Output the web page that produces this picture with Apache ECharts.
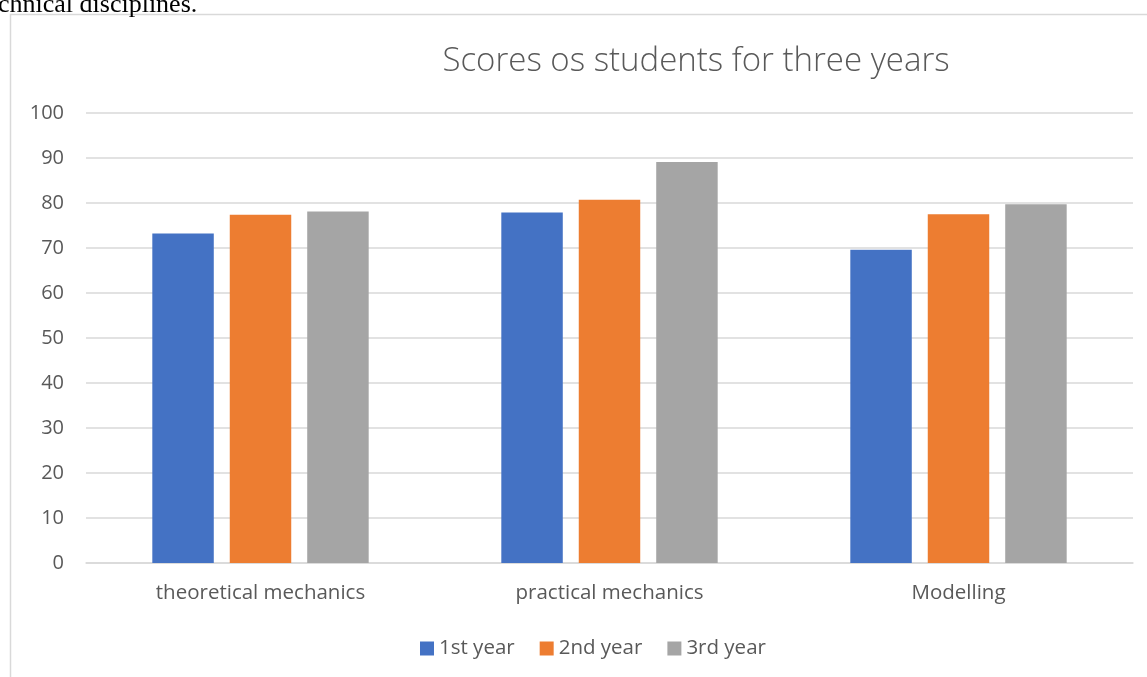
<!DOCTYPE html>
<html><head><meta charset="utf-8">
<script src="https://cdn.jsdelivr.net/npm/echarts@6/dist/echarts.min.js"></script>
<style>html,body{margin:0;padding:0;background:#fff;}#c{width:1147px;height:677px;}</style>
</head><body><div id="c"></div>
<script>
const categories = ['theoretical mechanics', 'practical mechanics', 'Modelling'];
const year1 = [73.2, 77.9, 69.6];
const year2 = [77.4, 80.7, 77.5];
const year3 = [78.1, 89.1, 79.7];
const seriesNames = ['1st year', '2nd year', '3rd year'];
const colors = ['#4472C4', '#ED7D31', '#A5A5A5'];

const chart = echarts.init(document.getElementById('c'));
const font = 'Open Sans';
chart.setOption({
  animation: false,
  graphic: [
    {type: 'rect', shape: {x: 10.5, y: 14.5, width: 1300, height: 800},
     style: {fill: 'none', stroke: '#d9d9d9', lineWidth: 1.5}, silent: true},
    {type: 'text', left: -2, top: -8,
     style: {text: 'chnical disciplines.', font: '26px "Liberation Serif"', fill: '#000'}}
  ],
  title: {
    text: 'Scores os students for three years',
    left: 691, top: 40, textAlign: 'center',
    textStyle: {fontFamily: font, fontWeight: 300, fontSize: 33, color: '#595959'}
  },
  legend: {
    data: seriesNames, bottom: 13, left: 415,
    itemWidth: 14, itemHeight: 14, itemGap: 25, icon: 'rect',
    textStyle: {fontFamily: font, fontSize: 20.5, color: '#595959'}
  },
  grid: {left: 86, right: 14, top: 113, bottom: 114, containLabel: false},
  xAxis: {
    type: 'category', data: categories,
    axisLine: {lineStyle: {color: '#d9d9d9', width: 1.5}},
    axisTick: {show: false},
    axisLabel: {fontFamily: font, fontSize: 20.5, color: '#595959', margin: 20}
  },
  yAxis: {
    type: 'value', min: 0, max: 100, interval: 10,
    axisLine: {show: false}, axisTick: {show: false},
    splitLine: {lineStyle: {color: '#d9d9d9', width: 1.5}},
    axisLabel: {fontFamily: font, fontSize: 20, color: '#595959', margin: 22}
  },
  series: [year1, year2, year3].map((d, i) => ({
    name: seriesNames[i], type: 'bar', data: d,
    itemStyle: {color: colors[i]},
    barGap: '26%', barCategoryGap: '38%'
  }))
});
</script></body></html>
